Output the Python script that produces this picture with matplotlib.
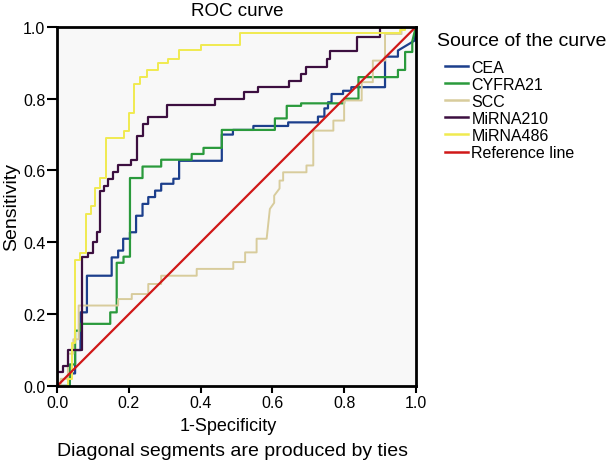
import matplotlib
matplotlib.use("Agg")
import matplotlib.pyplot as plt

plt.rcParams['font.family'] = ['Liberation Sans', 'DejaVu Sans']

# ROC step points (1-specificity, sensitivity)
cea_x = [0, 0.035, 0.035, 0.05, 0.05, 0.065, 0.065, 0.083, 0.083, 0.152, 0.152, 0.17, 0.17,
         0.184, 0.184, 0.203, 0.203, 0.22, 0.22, 0.238, 0.238, 0.254, 0.254, 0.273, 0.273,
         0.29, 0.29, 0.324, 0.324, 0.34, 0.34, 0.459, 0.459, 0.49, 0.49, 0.547, 0.547, 0.644,
         0.644, 0.727, 0.727, 0.745, 0.745, 0.755, 0.755, 0.765, 0.765, 0.797, 0.797, 0.82,
         0.82, 0.914, 0.914, 0.95, 0.95, 0.997, 1.0]
cea_y = [0, 0, 0.035, 0.035, 0.10, 0.10, 0.205, 0.205, 0.307, 0.307, 0.358, 0.358, 0.377,
         0.377, 0.41, 0.41, 0.428, 0.428, 0.474, 0.474, 0.507, 0.507, 0.526, 0.526, 0.544,
         0.544, 0.563, 0.563, 0.577, 0.577, 0.627, 0.627, 0.70, 0.70, 0.713, 0.713, 0.724,
         0.724, 0.734, 0.734, 0.75, 0.75, 0.773, 0.773, 0.79, 0.79, 0.813, 0.813, 0.822,
         0.822, 0.832, 0.832, 0.917, 0.917, 0.934, 0.962, 1.0]

cyfra_x = [0, 0.035, 0.035, 0.05, 0.05, 0.065, 0.065, 0.148, 0.148, 0.166, 0.166, 0.185,
           0.185, 0.203, 0.203, 0.238, 0.238, 0.29, 0.29, 0.375, 0.375, 0.408, 0.408, 0.459,
           0.459, 0.607, 0.607, 0.64, 0.64, 0.68, 0.68, 0.80, 0.80, 0.84, 0.84, 0.95, 0.95,
           0.97, 0.97, 0.99, 0.99, 1.0]
cyfra_y = [0, 0, 0.06, 0.06, 0.154, 0.154, 0.173, 0.173, 0.205, 0.205, 0.343, 0.343, 0.36,
           0.36, 0.579, 0.579, 0.611, 0.611, 0.63, 0.63, 0.646, 0.646, 0.663, 0.663, 0.713,
           0.713, 0.745, 0.745, 0.78, 0.78, 0.787, 0.787, 0.80, 0.80, 0.86, 0.86, 0.88, 0.88,
           0.93, 0.93, 0.96, 1.0]

scc_x = [0, 0.01, 0.01, 0.03, 0.03, 0.045, 0.045, 0.06, 0.06, 0.17, 0.17, 0.208, 0.208,
         0.254, 0.254, 0.29, 0.29, 0.389, 0.389, 0.491, 0.491, 0.524, 0.524, 0.556, 0.556,
         0.584, 0.593, 0.605, 0.605, 0.62, 0.62, 0.63, 0.63, 0.695, 0.695, 0.714, 0.714,
         0.77, 0.77, 0.80, 0.80, 0.849, 0.849, 0.88, 0.88, 0.914, 0.914, 0.96, 0.96, 1.0]
scc_y = [0, 0, 0.02, 0.02, 0.09, 0.09, 0.13, 0.13, 0.224, 0.224, 0.242, 0.242, 0.256,
         0.256, 0.284, 0.284, 0.307, 0.307, 0.326, 0.326, 0.345, 0.345, 0.372, 0.372, 0.41,
         0.41, 0.493, 0.51, 0.53, 0.55, 0.572, 0.572, 0.595, 0.595, 0.614, 0.614, 0.711,
         0.711, 0.739, 0.739, 0.795, 0.795, 0.846, 0.846, 0.906, 0.906, 0.98, 0.98, 1.0, 1.0]

mir210_x = [0, 0, 0.017, 0.017, 0.03, 0.03, 0.069, 0.069, 0.085, 0.085, 0.10, 0.10, 0.11,
            0.11, 0.12, 0.12, 0.13, 0.13, 0.142, 0.142, 0.157, 0.157, 0.171, 0.171, 0.207,
            0.207, 0.222, 0.222, 0.24, 0.24, 0.254, 0.254, 0.305, 0.305, 0.44, 0.44, 0.52,
            0.52, 0.56, 0.56, 0.645, 0.645, 0.68, 0.68, 0.695, 0.695, 0.751, 0.751, 0.76,
            0.76, 0.835, 0.835, 0.90, 0.90, 1.0]
mir210_y = [0, 0.04, 0.04, 0.057, 0.057, 0.10, 0.10, 0.36, 0.36, 0.37, 0.37, 0.40, 0.40,
            0.43, 0.43, 0.544, 0.544, 0.558, 0.558, 0.577, 0.577, 0.595, 0.595, 0.614, 0.614,
            0.628, 0.628, 0.697, 0.697, 0.73, 0.73, 0.748, 0.748, 0.783, 0.783, 0.80, 0.80,
            0.819, 0.819, 0.832, 0.832, 0.85, 0.85, 0.869, 0.869, 0.887, 0.887, 0.91, 0.91,
            0.934, 0.934, 0.971, 0.971, 1.0, 1.0]

mir486_x = [0, 0.03, 0.03, 0.04, 0.04, 0.05, 0.05, 0.065, 0.065, 0.08, 0.08, 0.095, 0.095,
            0.105, 0.105, 0.12, 0.12, 0.135, 0.135, 0.185, 0.185, 0.2, 0.2, 0.215, 0.215,
            0.23, 0.23, 0.25, 0.25, 0.28, 0.28, 0.31, 0.31, 0.34, 0.34, 0.40, 0.40, 0.51,
            0.51, 0.955, 0.955, 0.97, 0.97, 1.0]
mir486_y = [0, 0, 0.02, 0.02, 0.12, 0.12, 0.35, 0.35, 0.37, 0.37, 0.48, 0.48, 0.50, 0.50,
            0.55, 0.55, 0.58, 0.58, 0.69, 0.69, 0.71, 0.71, 0.76, 0.76, 0.84, 0.84, 0.86,
            0.86, 0.88, 0.88, 0.90, 0.90, 0.91, 0.91, 0.935, 0.935, 0.95, 0.95, 0.984, 0.984,
            0.99, 0.99, 1.0, 1.0]

ref_x = [0, 1]
ref_y = [0, 1]

fig = plt.figure(figsize=(6.08, 4.64), dpi=100)
ax = fig.add_axes([0.094, 0.166, 0.590, 0.774])
ax.set_facecolor('#f8f8f8')

ax.plot(cea_x, cea_y, color='#1c3f8c', lw=1.6, label='CEA')
ax.plot(cyfra_x, cyfra_y, color='#2a9a3c', lw=1.6, label='CYFRA21')
ax.plot(scc_x, scc_y, color='#d8cc9c', lw=1.4, label='SCC')
ax.plot(mir210_x, mir210_y, color='#3c0f40', lw=1.6, label='MiRNA210')
ax.plot(mir486_x, mir486_y, color='#f0ea50', lw=1.4, label='MiRNA486')
ax.plot(ref_x, ref_y, color='#d01818', lw=1.6, label='Reference line')

ax.set_xlim(0, 1)
ax.set_ylim(0, 1)
ticks = [0.0, 0.2, 0.4, 0.6, 0.8, 1.0]
ax.set_xticks(ticks)
ax.set_yticks(ticks)
ax.set_xticklabels(['%.1f' % t for t in ticks])
ax.set_yticklabels(['%.1f' % t for t in ticks])
ax.tick_params(direction='out', width=1.5, labelsize=11.5, pad=1.5)
ax.tick_params(axis='x', length=5)
ax.tick_params(axis='y', length=7)
for s in ax.spines.values():
    s.set_linewidth(2)

# titles and labels placed like in the picture
fig.text(0.391, 0.976, 'ROC curve', fontsize=13.5, ha='center', va='center')
fig.text(0.375, 0.080, '1-Specificity', fontsize=13, ha='center', va='center')
fig.text(0.0197, 0.553, 'Sensitivity', fontsize=14, rotation=90, ha='center', va='center')
fig.text(0.382, 0.028, 'Diagonal segments are produced by ties', fontsize=14,
         ha='center', va='center')

fig.text(0.719, 0.910, 'Source of the curve', fontsize=14, ha='left', va='center')
leg = fig.legend(loc='upper left', bbox_to_anchor=(0.732, 0.869), frameon=False,
                 fontsize=11.5, handlelength=1.45, handletextpad=0.2, labelspacing=0.13,
                 borderaxespad=0, borderpad=0)
for line in leg.get_lines():
    line.set_linewidth(1.8)

fig.savefig('out.png', dpi=100)
